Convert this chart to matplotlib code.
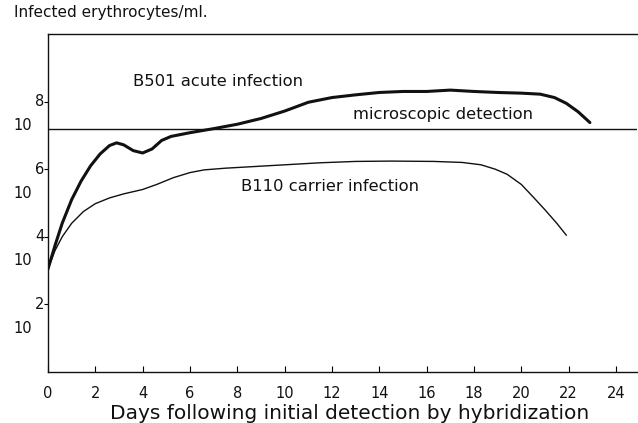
import numpy as np
import matplotlib
matplotlib.use("Agg")
import matplotlib.pyplot as plt

# values (day, log10 infected erythrocytes/ml)
b501_days = [0, 0.3, 0.6, 1.0, 1.4, 1.8, 2.2, 2.6, 2.9, 3.2, 3.6, 4.0, 4.4,
             4.8, 5.2, 6.0, 7.0, 8.0, 9.0, 10.0, 11.0, 12.0, 13.0, 14.0,
             15.0, 16.0, 17.0, 18.0, 19.0, 20.0, 20.8, 21.4, 21.9, 22.4, 22.9]
b501_vals = [3.05, 3.75, 4.4, 5.1, 5.65, 6.1, 6.45, 6.7, 6.78, 6.72, 6.55, 6.48, 6.6,
             6.85, 6.97, 7.08, 7.2, 7.33, 7.5, 7.72, 7.98, 8.12, 8.2, 8.27,
             8.3, 8.3, 8.34, 8.3, 8.27, 8.25, 8.22, 8.12, 7.95, 7.7, 7.38]

b110_days = [0, 0.3, 0.6, 1.0, 1.5, 2.0, 2.6, 3.2, 4.0, 4.6, 5.3, 6.0, 6.6,
             7.5, 8.5, 10.0, 11.5, 13.0, 14.5, 16.3, 17.5, 18.3, 18.9, 19.4,
             20.0, 20.5, 21.0, 21.5, 21.9]
b110_vals = [3.05, 3.6, 4.0, 4.4, 4.75, 4.98, 5.15, 5.27, 5.4, 5.55, 5.75, 5.9, 5.98,
             6.03, 6.07, 6.13, 6.19, 6.23, 6.24, 6.23, 6.2, 6.13, 6.0, 5.85,
             5.55, 5.18, 4.8, 4.4, 4.05]

detection_level = 7.2
x_ticks = [0, 2, 4, 6, 8, 10, 12, 14, 16, 18, 20, 22, 24]
y_exponents = [2, 4, 6, 8]

fig = plt.figure(figsize=(6.38, 4.23), dpi=100)
ax = fig.add_axes([48 / 638, 51 / 423, 589 / 638, 338 / 423])
ax.set_xlim(0, 24.89)
ax.set_ylim(0, 10)

ink = "#111111"
ax.plot(b501_days, b501_vals, color=ink, lw=2.2, solid_joinstyle="round",
        solid_capstyle="round")
ax.plot(b110_days, b110_vals, color=ink, lw=1.0, solid_joinstyle="round")
ax.axhline(detection_level, color=ink, lw=1.0)

for s in ["left", "bottom", "top"]:
    ax.spines[s].set_color(ink)
    ax.spines[s].set_linewidth(1.0)
ax.spines["right"].set_visible(False)

ax.set_xticks(x_ticks)
ax.set_xticklabels([str(t) for t in x_ticks], fontsize=10.5, color=ink)
ax.tick_params(axis="x", direction="in", length=4, pad=10, width=0.8)
ax.set_yticks(y_exponents)
ax.set_yticklabels([])
ax.tick_params(axis="y", direction="out", length=3, width=0.8)

# y labels drawn as "10" with the exponent above it
for e in y_exponents:
    ax.text(-0.14, e, str(e), ha="right", va="center", fontsize=10.5, color=ink)
    ax.text(-0.68, e - 0.71, "10", ha="right", va="center", fontsize=10.5, color=ink)

ax.text(7.2, 8.58, "B501 acute infection", ha="center", va="center",
        fontsize=11.8, color=ink)
ax.text(16.7, 7.63, "microscopic detection", ha="center", va="center",
        fontsize=11.8, color=ink)
ax.text(11.9, 5.5, "B110 carrier infection", ha="center", va="center",
        fontsize=11.8, color=ink)

fig.text(14 / 638, 1 - 12 / 423, "Infected erythrocytes/ml.", ha="left",
         va="center", fontsize=11, color=ink)
fig.text(350 / 638, 4 / 423, "Days following initial detection by hybridization",
         ha="center", va="baseline", fontsize=14.5, color=ink)

fig.savefig("out.png", dpi=100)
